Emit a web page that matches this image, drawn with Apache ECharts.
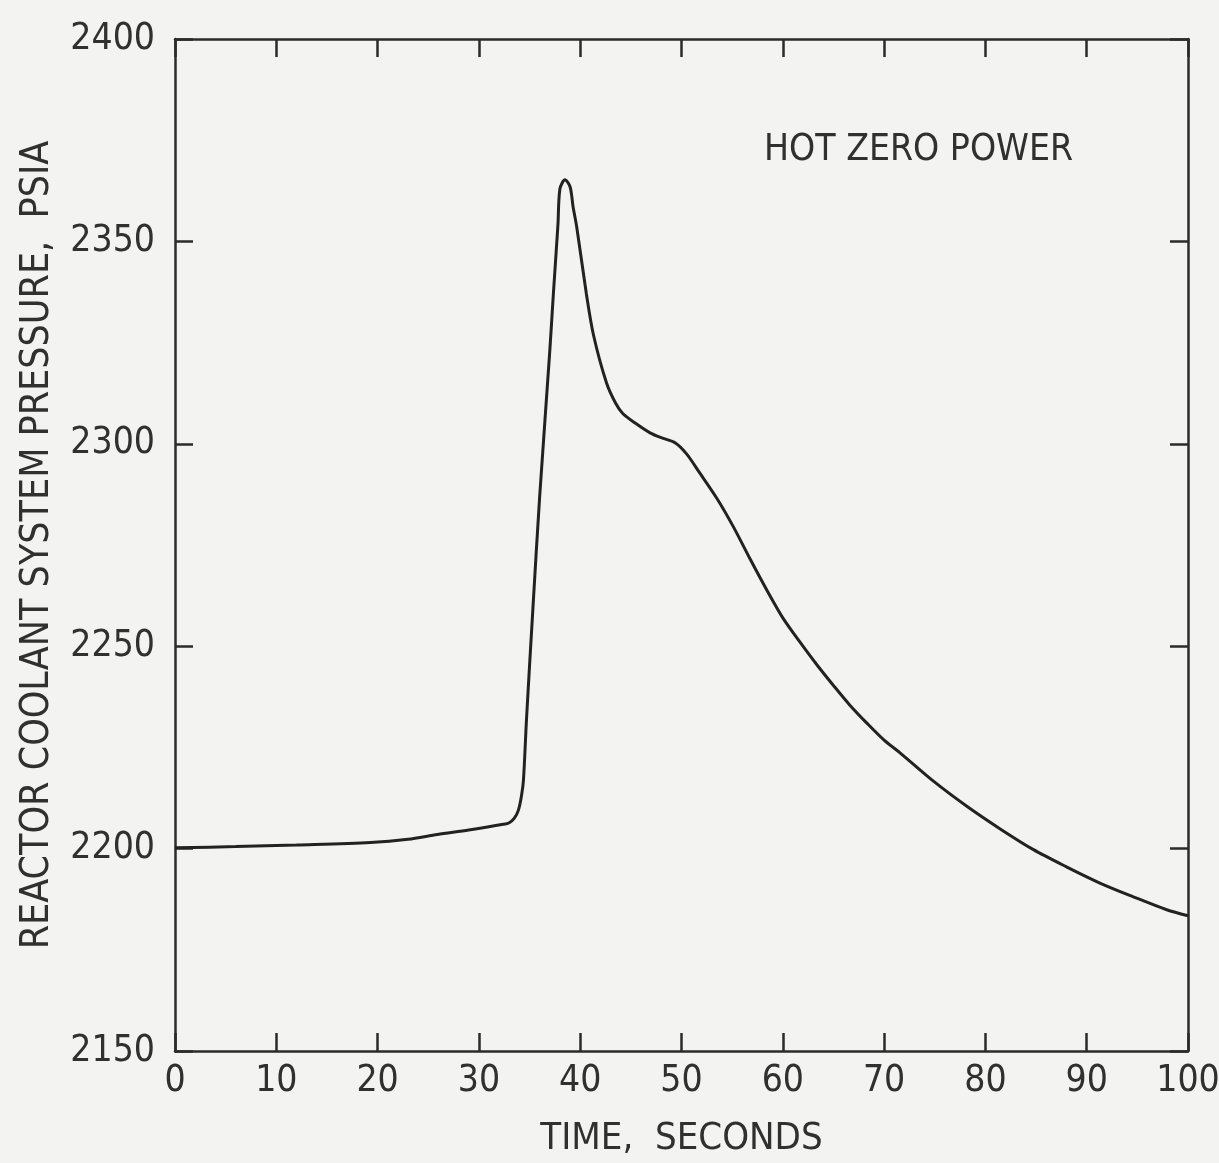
<!DOCTYPE html>
<html>
<head>
<meta charset="utf-8">
<script src="https://cdn.jsdelivr.net/npm/echarts@6/dist/echarts.min.js"></script>
<style>
html,body{margin:0;padding:0;background:#f3f3f1;}
#c{width:1219px;height:1163px;}
</style>
</head>
<body>
<div id="c"></div>
<script>
// Time, seconds
var timeSec = [0, 6, 12, 19.3, 23, 25.9, 29, 32.4, 33.0, 33.5, 33.9, 34.2, 34.4, 34.7, 35.3, 36.0, 37.0, 37.35, 37.8, 38.0, 38.5, 39.0, 39.3, 39.65, 40.6, 41.3, 42.6, 43.5, 44.2, 45.5, 46.9, 48.0, 49.4, 50.5, 51.8, 53.5, 55.1, 56.8, 58.5, 60.0, 61.7, 63.4, 65.0, 66.6, 68.3, 70.0, 71.6, 74.9, 78.2, 81.5, 84.7, 88.0, 91.3, 94.6, 97.9, 100];
// Reactor coolant system pressure, psia
var pressure = [2200.2, 2200.5, 2200.9, 2201.5, 2202.3, 2203.5, 2204.6, 2206, 2206.4, 2207.5, 2209.5, 2213, 2217, 2232, 2258, 2287, 2323, 2337, 2354, 2363, 2365.2, 2363.5, 2358.5, 2353.7, 2337.2, 2327, 2315, 2310, 2307.5, 2305, 2302.7, 2301.5, 2300.2, 2297.5, 2292.8, 2286.5, 2279.6, 2271.4, 2263.5, 2257, 2251, 2245.3, 2240.3, 2235.5, 2231, 2226.8, 2223.6, 2216.6, 2210.4, 2204.8, 2199.8, 2195.5, 2191.5, 2188.1, 2184.9, 2183.4];
var xTicks = [0, 10, 20, 30, 40, 50, 60, 70, 80, 90, 100];
var yTicks = [2150, 2200, 2250, 2300, 2350, 2400];
var annotation = 'HOT ZERO POWER';
var xTitle = 'TIME,  SECONDS';
var yTitle = 'REACTOR COOLANT SYSTEM PRESSURE,  PSIA';

var FONT = '"Liberation Sans Narrow", "DejaVu Sans Condensed", "Liberation Sans", sans-serif';
var INK = '#2b2b2b';
var TXT = '#303030';
var pts = timeSec.map(function (t, i) { return [t, pressure[i]]; });

var axisLine = {show: true, onZero: false, lineStyle: {color: INK, width: 2.5}};
var tickIn = {show: true, inside: true, length: 18, lineStyle: {color: INK, width: 2.5}};
var plain = function (v) { return String(v); };

var chart = echarts.init(document.getElementById('c'));
chart.setOption({
  backgroundColor: '#f3f3f1',
  animation: false,
  title: {
    text: annotation, left: 759, top: 127,
    textStyle: {fontFamily: FONT, fontSize: 37, fontWeight: 'normal', color: TXT}
  },
  grid: {left: 175, right: 31, top: 39, bottom: 112, containLabel: false, outerBoundsMode: 'none'},
  xAxis: [{
    type: 'value', min: xTicks[0], max: xTicks[xTicks.length - 1], interval: 10,
    position: 'bottom',
    name: xTitle, nameLocation: 'middle', nameGap: 69, nameMoveOverlap: false,
    nameTextStyle: {fontFamily: FONT, fontSize: 38, color: TXT},
    axisLine: axisLine, axisTick: tickIn, splitLine: {show: false},
    axisLabel: {fontFamily: FONT, fontSize: 37, color: TXT, margin: 12, formatter: plain}
  }, {
    type: 'value', min: xTicks[0], max: xTicks[xTicks.length - 1], interval: 10,
    position: 'top',
    axisLine: axisLine, axisTick: tickIn, splitLine: {show: false},
    axisLabel: {show: false}
  }],
  yAxis: [{
    type: 'value', min: yTicks[0], max: yTicks[yTicks.length - 1], interval: 50,
    position: 'left',
    name: yTitle, nameLocation: 'middle', nameGap: 118, nameMoveOverlap: false,
    nameTextStyle: {fontFamily: FONT, fontSize: 39, color: TXT},
    axisLine: axisLine, axisTick: tickIn, splitLine: {show: false},
    axisLabel: {fontFamily: FONT, fontSize: 37, color: TXT, margin: 20, formatter: plain}
  }, {
    type: 'value', min: yTicks[0], max: yTicks[yTicks.length - 1], interval: 50,
    position: 'right',
    axisLine: axisLine, axisTick: tickIn, splitLine: {show: false},
    axisLabel: {show: false}
  }],
  series: [{
    type: 'line', data: pts, showSymbol: false, smooth: 0.3,
    lineStyle: {color: '#222', width: 3}
  }]
});
</script>
</body>
</html>
